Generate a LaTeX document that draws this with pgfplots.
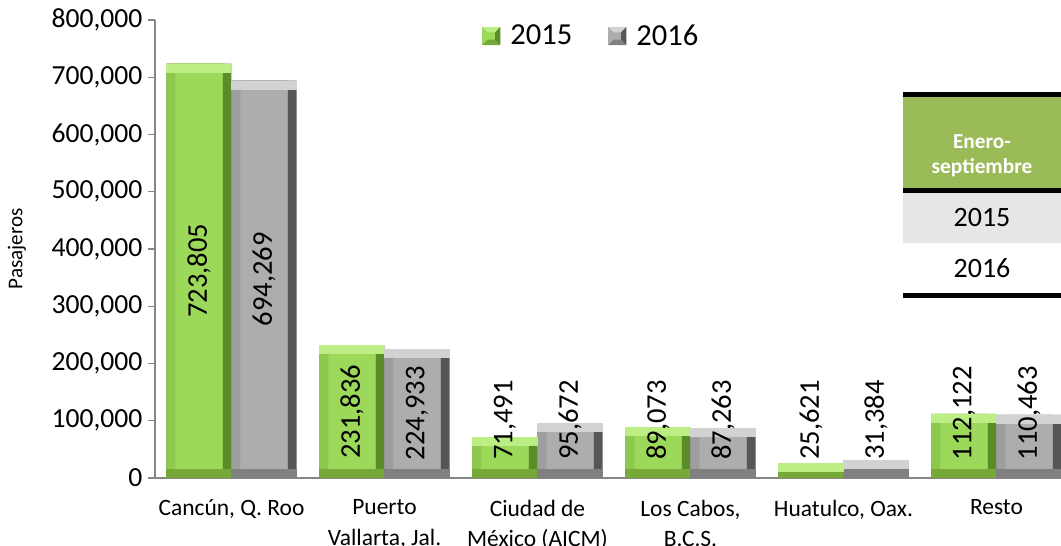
\documentclass[border=0pt]{standalone}
\usepackage{fontspec}
\setmainfont{Carlito}
\usepackage{pgfplots}
\pgfplotsset{compat=1.18}
\usepackage{pgfplotstable}

\definecolor{axisgray}{HTML}{868686}
\definecolor{gface}{HTML}{9CD85A}
\definecolor{gtop}{HTML}{BDEE85}
\definecolor{gleft}{HTML}{8CC94C}
\definecolor{gright}{HTML}{5A8C27}
\definecolor{gbot}{HTML}{76A83A}
\definecolor{sface}{HTML}{ADADAD}
\definecolor{stop}{HTML}{D2D2D2}
\definecolor{sleft}{HTML}{9E9E9E}
\definecolor{sright}{HTML}{565656}
\definecolor{sbot}{HTML}{808080}
\definecolor{hgreen}{HTML}{9BBB59}
\definecolor{rowgray}{HTML}{E6E6E6}

\tikzset{
  band/.style={rectangle, minimum width=48.77pt, minimum height=6.75pt,
    inner sep=0pt, outer sep=0pt, draw=none, fill=#1},
  topband/.style={band=#1, anchor=north},
  botband/.style={band=#1, anchor=south},
}

\pgfplotstableread{
x y2015 y2016 p2015 p2016 z
0 723805 694269 361902 347134 0
1 231836 224933 115918 113000 0
2 71491 95672 101000 101000 0
3 89073 87263 101000 101000 0
4 25621 31384 101000 101000 0
5 112122 110463 113000 113000 0
}\data

\begin{document}
\begin{tikzpicture}[x=1pt,y=1pt]
\useasboundingbox (-116.25,-51) rectangle (679.5,358.5);
\begin{axis}[
  at={(0,0)}, anchor=south west,
  scale only axis, width=679.5pt, height=343.5pt,
  xmin=-0.5, xmax=5.4216, ymin=0, ymax=800000,
  axis x line*=bottom, axis y line*=left,
  axis line style={draw=axisgray, line width=1.1pt},
  xtick={0,1,2,3,4,5},
  xticklabels={{Cancún, Q. Roo},{Puerto\\Vallarta, Jal.},{Ciudad de\\México (AICM)},{Los Cabos,\\B.C.S.},{Huatulco, Oax.},{Resto}},
  x tick style={draw=none},
  xticklabel style={align=center, anchor=north, inner sep=0pt, yshift=-11pt, font=\fontsize{17.6}{22.6}\selectfont},
  ytick={0,100000,200000,300000,400000,500000,600000,700000,800000},
  y tick style={draw=axisgray, line width=1.1pt},
  tick align=outside, major tick length=5.25pt,
  scaled y ticks=false,
  /pgf/number format/fixed, /pgf/number format/precision=0,
  /pgf/number format/1000 sep={,}, /pgf/number format/assume math mode=true,
  yticklabel style={anchor=east, inner sep=0pt, xshift=-4pt, font=\fontsize{20.7}{24}\selectfont},
  ylabel={Pasajeros},
  every axis y label/.style={at={(axis description cs:-0.1523,0.5)}, rotate=90, anchor=center, font=\fontsize{15.8}{18}\selectfont},
  legend style={at={(axis description cs:0.482,0.965)}, anchor=center, draw=none, fill=none,
    legend columns=2, font=\fontsize{22.9}{26}\selectfont,
    /tikz/every even column/.append style={column sep=25pt}},
  ybar,
]
% ---- 2015 (green) ----
\addplot[draw=none, fill=gright, bar width=0.425, bar shift=-0.2125,
  legend image code/.code={
    \fill[gface] (0pt,-6.75pt) rectangle (13.5pt,6.75pt);
    \fill[gtop] (0pt,6.75pt)--(13.5pt,6.75pt)--(9.5pt,2.75pt)--(4pt,2.75pt)--cycle;
    \fill[gright] (13.5pt,6.75pt)--(13.5pt,-6.75pt)--(9.5pt,-2.75pt)--(9.5pt,2.75pt)--cycle;
    \fill[gbot] (0pt,-6.75pt)--(13.5pt,-6.75pt)--(9.5pt,-2.75pt)--(4pt,-2.75pt)--cycle;
    \path (19pt,0pt);
  }] table[x=x, y=y2015]{\data};
\addlegendentry{2015}
\addplot[forget plot, draw=none, fill=gleft, bar width=0.3662, bar shift=-0.2419] table[x=x, y=y2015]{\data};
\addplot[forget plot, draw=none, fill=gface, bar width=0.3074, bar shift=-0.2125] table[x=x, y=y2015]{\data};
% ---- 2016 (gray) ----
\addplot[draw=none, fill=sright, bar width=0.425, bar shift=0.2125,
  legend image code/.code={
    \fill[sface] (0pt,-6.75pt) rectangle (13.5pt,6.75pt);
    \fill[stop] (0pt,6.75pt)--(13.5pt,6.75pt)--(9.5pt,2.75pt)--(4pt,2.75pt)--cycle;
    \fill[sright] (13.5pt,6.75pt)--(13.5pt,-6.75pt)--(9.5pt,-2.75pt)--(9.5pt,2.75pt)--cycle;
    \fill[sbot] (0pt,-6.75pt)--(13.5pt,-6.75pt)--(9.5pt,-2.75pt)--(4pt,-2.75pt)--cycle;
    \path (19pt,0pt);
  }] table[x=x, y=y2016]{\data};
\addlegendentry{2016}
\addplot[forget plot, draw=none, fill=sleft, bar width=0.3662, bar shift=0.1831] table[x=x, y=y2016]{\data};
\addplot[forget plot, draw=none, fill=sface, bar width=0.3074, bar shift=0.2125] table[x=x, y=y2016]{\data};
% ---- bevel bands (bottom, then top) ----
\addplot[forget plot, draw=none, fill=none, sharp plot, mark=none,
  nodes near coords={}, every node near coord/.style={botband=gbot}]
  table[x expr=\thisrow{x}-0.2125, y=z]{\data};
\addplot[forget plot, draw=none, fill=none, sharp plot, mark=none,
  nodes near coords={}, every node near coord/.style={botband=sbot}]
  table[x expr=\thisrow{x}+0.2125, y=z]{\data};
\addplot[forget plot, draw=none, fill=none, sharp plot, mark=none,
  nodes near coords={}, every node near coord/.style={topband=gtop}]
  table[x expr=\thisrow{x}-0.2125, y=y2015]{\data};
\addplot[forget plot, draw=none, fill=none, sharp plot, mark=none,
  nodes near coords={}, every node near coord/.style={topband=stop}]
  table[x expr=\thisrow{x}+0.2125, y=y2016]{\data};
% ---- data labels ----
\addplot[forget plot, draw=none, fill=none, sharp plot, mark=none,
  nodes near coords, point meta=\thisrow{y2015},
  every node near coord/.style={rotate=90, anchor=center, inner sep=0pt, font=\fontsize{21.4}{24}\selectfont, text=black}]
  table[x expr=\thisrow{x}-0.2125, y=p2015]{\data};
\addplot[forget plot, draw=none, fill=none, sharp plot, mark=none,
  nodes near coords, point meta=\thisrow{y2016},
  every node near coord/.style={rotate=90, anchor=center, inner sep=0pt, font=\fontsize{21.4}{24}\selectfont, text=black}]
  table[x expr=\thisrow{x}+0.2125, y=p2016]{\data};
\end{axis}
% summary table at upper right
\fill[black] (561,285.75) rectangle (679.5,289.5);
\fill[hgreen] (561,217.5) rectangle (679.5,285.75);
\fill[black] (561,213.75) rectangle (679.5,217.5);
\fill[rowgray] (561,176.25) rectangle (679.5,213.75);
\fill[black] (561,135) rectangle (679.5,138.75);
\node[text=white, font=\bfseries\fontsize{16}{18.75}\selectfont, align=center] at (620.25,242) {Enero-\\septiembre};
\node[font=\fontsize{21}{24}\selectfont] at (620.25,195) {2015};
\node[font=\fontsize{21}{24}\selectfont] at (620.25,157.5) {2016};
\end{tikzpicture}
\end{document}
